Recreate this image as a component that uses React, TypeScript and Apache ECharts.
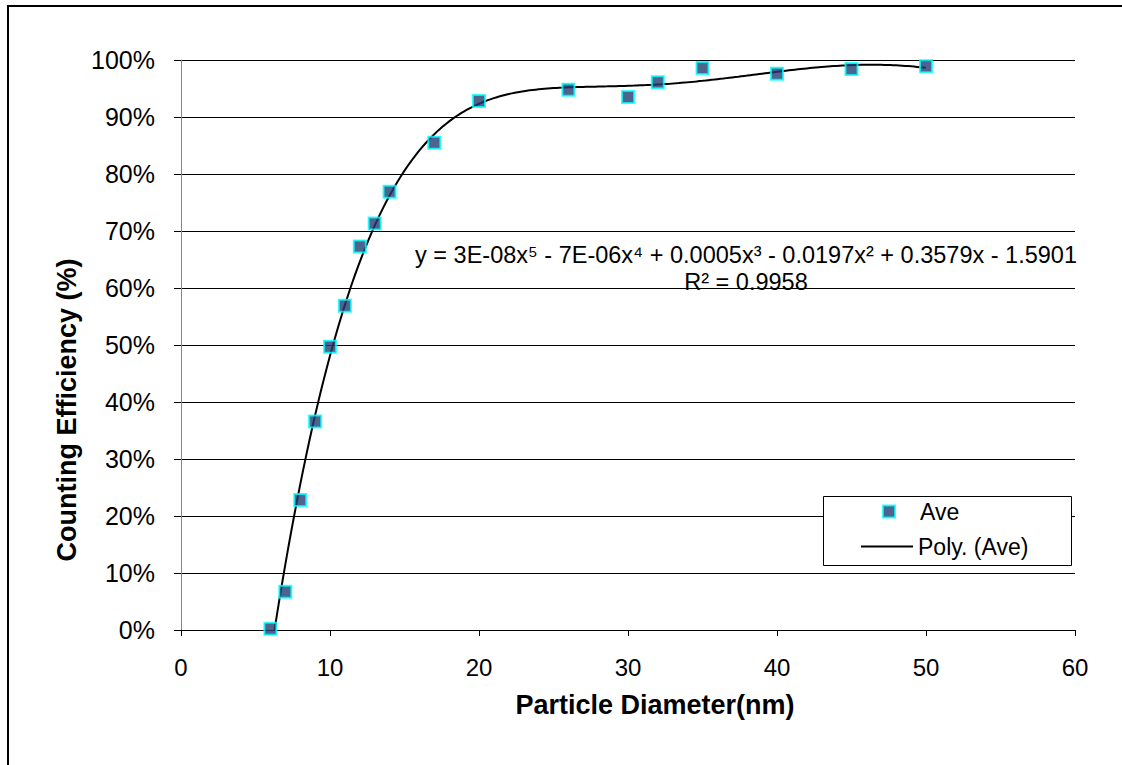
import React, { useEffect, useRef } from "react";
import * as echarts from "echarts";

// Particle diameter (nm) and counting efficiency (fraction)
const diameters = [6, 7, 8, 9, 10, 11, 12, 13, 14, 17, 20, 26, 30, 32, 35, 40, 45, 50];
const efficiency = [0.002, 0.067, 0.228, 0.366, 0.497, 0.569, 0.673, 0.713, 0.769, 0.855, 0.928, 0.948, 0.935, 0.961, 0.986, 0.976, 0.984, 0.989];

const xTicks = [0, 10, 20, 30, 40, 50, 60];
const seriesNames = ["Ave", "Poly. (Ave)"];
const equationLines = [
  "y = 3E-08x\u2075 - 7E-06x\u2074 + 0.0005x\u00B3 - 0.0197x\u00B2 + 0.3579x - 1.5901",
  "R\u00B2 = 0.9958",
];

const FONT = "'Liberation Sans', Arial, Helvetica, sans-serif";

// Least-squares polynomial trendline (degree 5) fitted to the data above
function polyFit(xs: number[], ys: number[], deg: number) {
  const cx = 28, sx = 22;
  const n = deg + 1;
  const A: number[][] = Array.from({ length: n }, () => new Array(n + 1).fill(0));
  for (let k = 0; k < xs.length; k++) {
    const t = (xs[k] - cx) / sx;
    const pw: number[] = [];
    for (let i = 0; i < 2 * n; i++) pw.push(Math.pow(t, i));
    for (let i = 0; i < n; i++) {
      for (let j = 0; j < n; j++) A[i][j] += pw[i + j];
      A[i][n] += pw[i] * ys[k];
    }
  }
  for (let c = 0; c < n; c++) {
    let p = c;
    for (let r = c + 1; r < n; r++) if (Math.abs(A[r][c]) > Math.abs(A[p][c])) p = r;
    [A[c], A[p]] = [A[p], A[c]];
    for (let r = 0; r < n; r++) {
      if (r === c) continue;
      const f = A[r][c] / A[c][c];
      for (let j = c; j <= n; j++) A[r][j] -= f * A[c][j];
    }
  }
  const coef = A.map((row, i) => row[n] / row[i]);
  return (x: number) => {
    const t = (x - cx) / sx;
    let v = 0;
    for (let i = n - 1; i >= 0; i--) v = v * t + coef[i];
    return v;
  };
}

export default function App() {
  const ref = useRef<HTMLDivElement>(null);
  useEffect(() => {
    if (!ref.current) return;
    const chart = echarts.init(ref.current, undefined, { renderer: "svg" });
    const f = polyFit(diameters, efficiency, 5);
    const xMin = diameters[0];
    const xMax = diameters[diameters.length - 1];
    const trend: number[][] = [];
    const steps = 220;
    for (let i = 0; i <= steps; i++) {
      const x = xMin + ((xMax - xMin) * i) / steps;
      trend.push([x, f(x)]);
    }
    chart.setOption({
      animation: false,
      backgroundColor: "#ffffff",
      textStyle: { fontFamily: FONT },
      grid: { left: 181, top: 60, right: 47, bottom: 135 },
      xAxis: {
        type: "value",
        min: xTicks[0],
        max: xTicks[xTicks.length - 1],
        interval: 10,
        axisLine: { show: true, lineStyle: { color: "#000", width: 1 } },
        axisTick: { show: true, length: 6, lineStyle: { color: "#000" } },
        axisLabel: { fontSize: 24, color: "#000", fontFamily: FONT, margin: 25 },
        splitLine: { show: false },
        name: "Particle Diameter(nm)",
        nameLocation: "middle",
        nameGap: 61,
        nameTextStyle: {
          fontSize: 27,
          fontWeight: "bold",
          color: "#000",
          fontFamily: FONT,
          padding: [0, 0, 0, 54],
        },
      },
      yAxis: {
        type: "value",
        min: 0,
        max: 1,
        interval: 0.1,
        axisLine: { show: true, lineStyle: { color: "#868686", width: 1 } },
        axisTick: { show: true, length: 7, lineStyle: { color: "#000" } },
        axisLabel: {
          fontSize: 25,
          color: "#000",
          fontFamily: FONT,
          margin: 26,
          formatter: (v: number) => Math.round(v * 100) + "%",
        },
        splitLine: { show: true, lineStyle: { color: "#000", width: 1 } },
        name: "Counting Efficiency (%)",
        nameLocation: "middle",
        nameGap: 99,
        nameTextStyle: {
          fontSize: 27,
          fontWeight: "bold",
          color: "#000",
          fontFamily: FONT,
          padding: [0, 130, 0, 0],
        },
      },
      legend: [
        {
          data: [seriesNames[0]],
          left: 882,
          top: 500,
          padding: 0,
          icon: "rect",
          itemWidth: 12,
          itemHeight: 12,
          textStyle: { fontSize: 23, color: "#000", fontFamily: FONT, padding: [0, 0, 0, 20] },
        },
        {
          data: [seriesNames[1]],
          left: 861,
          top: 535,
          padding: 0,
          icon: "rect",
          itemWidth: 52,
          itemHeight: 2,
          textStyle: { fontSize: 23, color: "#000", fontFamily: FONT },
        },
      ],
      graphic: [
        {
          type: "rect",
          silent: true,
          z: -1,
          shape: { x: 8, y: 6, width: 1300, height: 1000 },
          style: { fill: "transparent", stroke: "#000", lineWidth: 2 },
        },
        {
          type: "rect",
          silent: true,
          z: 3,
          shape: { x: 823.5, y: 496.5, width: 248, height: 69 },
          style: { fill: "#fff", stroke: "#000", lineWidth: 1 },
        },
        {
          type: "text",
          silent: true,
          z: 5,
          x: 746,
          y: 268.5,
          style: {
            text: equationLines.join("\n"),
            align: "center",
            verticalAlign: "middle",
            fontSize: 23.5,
            lineHeight: 27,
            fontFamily: FONT,
            fill: "#000",
          },
        },
      ],
      series: [
        {
          name: seriesNames[1],
          type: "line",
          data: trend,
          symbol: "none",
          showSymbol: false,
          smooth: false,
          lineStyle: { color: "#000", width: 2 },
          itemStyle: { color: "#000" },
          z: 2,
        },
        {
          name: seriesNames[0],
          type: "scatter",
          data: diameters.map((d, i) => [d, efficiency[i]]),
          symbol: "rect",
          symbolSize: 12,
          itemStyle: { color: "#213f72", borderColor: "#00ffff", borderWidth: 2 },
          z: 3,
        },
      ],
    });
    return () => chart.dispose();
  }, []);
  return (
    <div
      ref={ref}
      style={{ position: "absolute", left: 0, top: 0, width: 1122, height: 765, background: "#fff" }}
    />
  );
}
